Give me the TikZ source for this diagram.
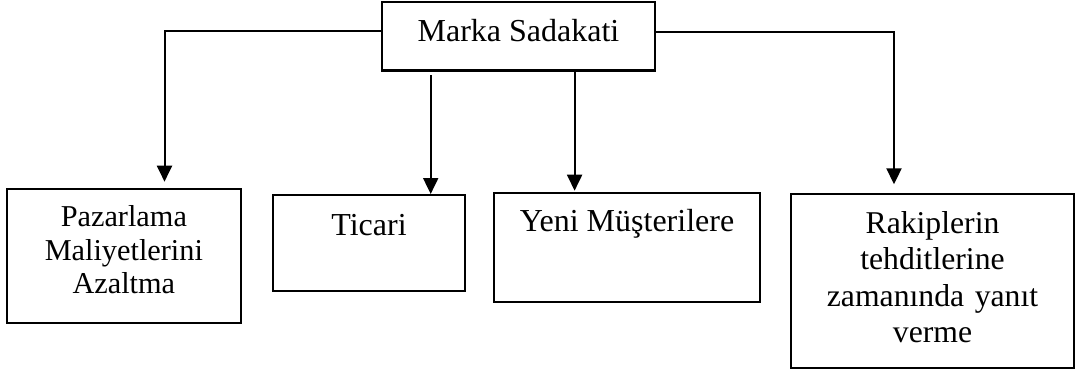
\documentclass[tikz,border=0pt]{standalone}
\usepackage{fontspec}
\setmainfont{Liberation Serif}
\usetikzlibrary{arrows.meta}
\begin{document}
\begin{tikzpicture}[x=1pt,y=1pt,
  boxnode/.style={draw=black, line width=2.1pt, inner sep=0pt, outer sep=0pt, fill=none},
  lbl/.style={anchor=base, inner sep=0pt, align=center, font=\fontsize{32}{36}\selectfont},
  multi/.style 2 args={font=\fontsize{#1}{#2}\selectfont},
  link/.style={line width=2pt, -{Triangle[length=16pt,width=15pt]}}]
\useasboundingbox (0,0) rectangle (1075,-372);
% boxes
\node[boxnode, minimum width=273pt, minimum height=68.5pt] (top) at (518.5,-36.25) {};
\node[boxnode, minimum width=233.7pt, minimum height=134.3pt] (b1) at (123.85,-256.15) {};
\node[boxnode, minimum width=192pt, minimum height=96pt] (b2) at (369,-243) {};
\node[boxnode, minimum width=266pt, minimum height=109pt] (b3) at (627,-247.2) {};
\node[boxnode, minimum width=283pt, minimum height=174pt] (b4) at (932.5,-281) {};
% labels
\node[lbl] (ttop) at ([yshift=-39.7pt]top.north) {Marka Sadakati};
\node[lbl, text width=230pt, multi={30.3}{33.5}] (t1) at ([yshift=-37.7pt]b1.north) {Pazarlama\\Maliyetlerini\\Azaltma};
\node[lbl] (t2) at ([yshift=-40pt]b2.north) {Ticari};
\node[lbl] (t3) at ([yshift=-39pt]b3.north) {Yeni Müşterilere};
\node[lbl, text width=280pt, multi={31.7}{36.4}] (t4) at ([yshift=-39.3pt]b4.north) {Rakiplerin\\tehditlerine\\zamanında yanıt\\verme};
% arrow ends
\coordinate (e1) at (164.5,-181.7);
\coordinate (s2) at (430.7,-75);
\coordinate (e2) at (430.7,-194);
\coordinate (e3) at (574.6,-190.7);
\coordinate (e4) at (894,-184.3);
% connectors
\draw[link] ([yshift=5.75pt]top.west) -| (e1);
\draw[link] ([yshift=4.5pt]top.east) -| (e4);
\draw[link] (s2) -- (e2);
\draw[link] (top.south -| e3) -- (e3);
\end{tikzpicture}
\end{document}
